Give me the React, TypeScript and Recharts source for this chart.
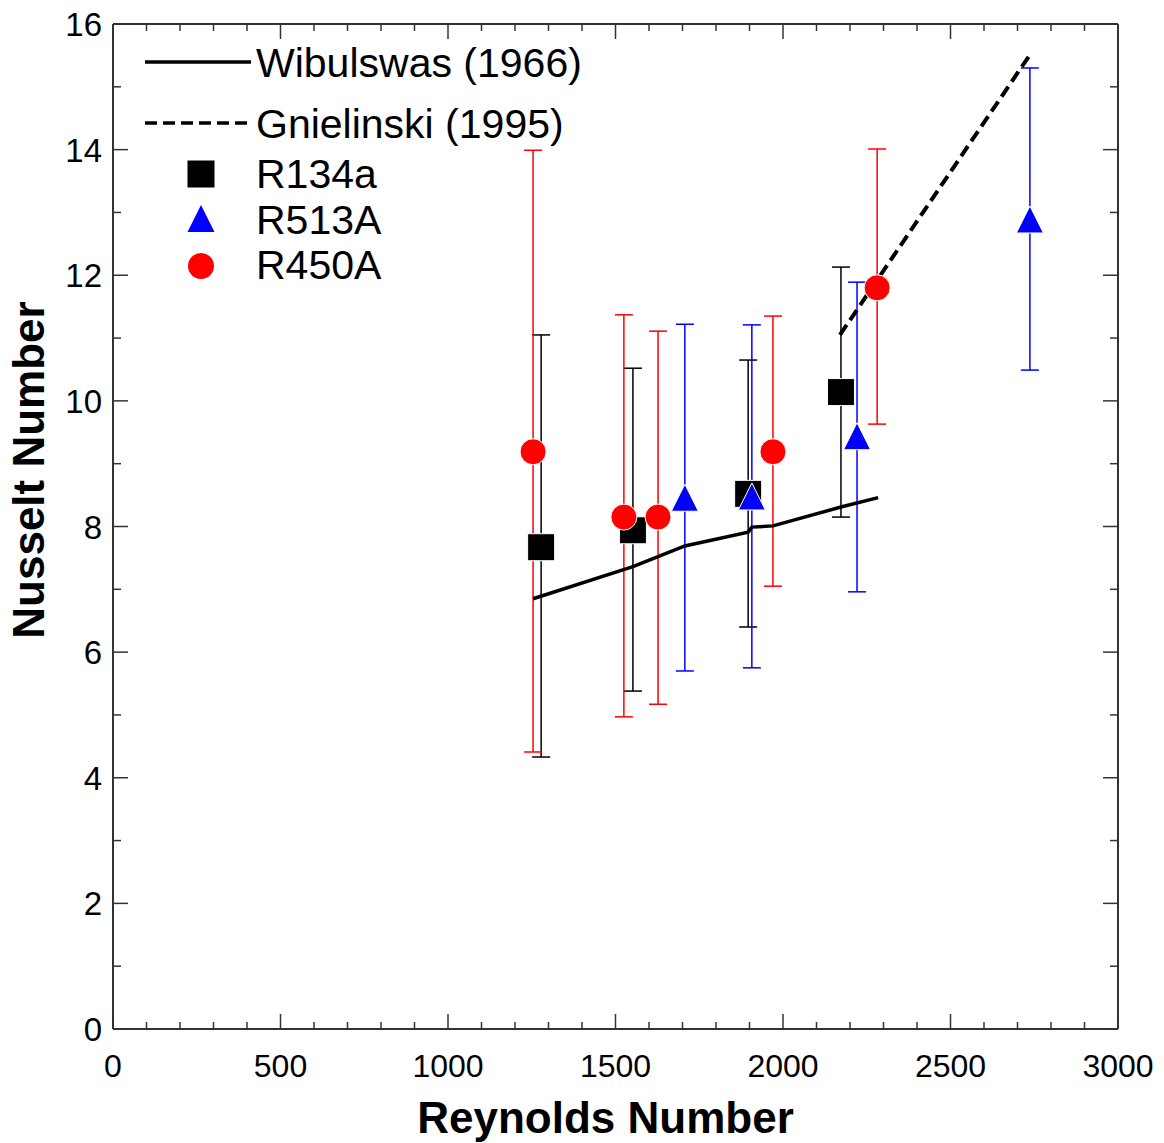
import React from 'react';
import { ComposedChart, Scatter, Line, XAxis, YAxis, ErrorBar, Label } from 'recharts';

// Reynolds number / Nusselt number, error bar bounds
const reR134a = [1278, 1552, 1896, 2173];
const nuR134a = [7.67, 7.94, 8.52, 10.14];
const hiR134a = [11.05, 10.52, 10.65, 12.13];
const loR134a = [4.33, 5.38, 6.4, 8.15];

const reR513A = [1707, 1907, 2221, 2737];
const nuR513A = [8.45, 8.47, 9.43, 12.88];
const hiR513A = [11.22, 11.21, 11.89, 15.3];
const loR513A = [5.7, 5.75, 6.96, 10.49];

const reR450A = [1254, 1525, 1627, 1970, 2281];
const nuR450A = [9.19, 8.15, 8.15, 9.19, 11.8];
const hiR450A = [13.99, 11.37, 11.11, 11.35, 14.01];
const loR450A = [4.41, 4.97, 5.17, 7.05, 9.63];

const reWib = [1254, 1552, 1627, 1707, 1896, 1907, 1970, 2173, 2284];
const nuWib = [6.85, 7.36, 7.52, 7.69, 7.91, 7.99, 8.01, 8.31, 8.46];

const reGni = [2170, 2737];
const nuGni = [11.05, 15.51];

const xTicks = [0, 100, 200, 300, 400, 500, 600, 700, 800, 900, 1000, 1100, 1200, 1300, 1400, 1500,
  1600, 1700, 1800, 1900, 2000, 2100, 2200, 2300, 2400, 2500, 2600, 2700, 2800, 2900, 3000];
const xLabels = [0, 500, 1000, 1500, 2000, 2500, 3000];
const yTicks = [0, 1, 2, 3, 4, 5, 6, 7, 8, 9, 10, 11, 12, 13, 14, 15, 16];
const yLabels = [0, 2, 4, 6, 8, 10, 12, 14, 16];

const FONT = 'Arial, "Liberation Sans", Helvetica, sans-serif';
const AXIS = '#333';

const withErr = (xs: number[], ys: number[], hi: number[], lo: number[]) =>
  xs.map((x, i) => ({ x, y: ys[i], err: [ys[i] - lo[i], hi[i] - ys[i]] }));
const pairs = (xs: number[], ys: number[]) => xs.map((x, i) => ({ x, y: ys[i] }));

const dataR134a = withErr(reR134a, nuR134a, hiR134a, loR134a);
const dataR513A = withErr(reR513A, nuR513A, hiR513A, loR513A);
const dataR450A = withErr(reR450A, nuR450A, hiR450A, loR450A);
const dataWib = pairs(reWib, nuWib);
const dataGni = pairs(reGni, nuGni);

const SquareDot = (p: any) => (
  <rect x={p.cx - 13.5} y={p.cy - 13.5} width={27} height={27} fill="#000" stroke="#fff" strokeWidth={1} />
);
const TriangleDot = (p: any) => (
  <polygon
    points={`${p.cx},${p.cy - 14} ${p.cx + 13.5},${p.cy + 13} ${p.cx - 13.5},${p.cy + 13}`}
    fill="#0000ff"
    stroke="#fff"
    strokeWidth={1}
  />
);
const CircleDot = (p: any) => <circle cx={p.cx} cy={p.cy} r={13} fill="#ff0000" stroke="#fff" strokeWidth={1} />;

const BottomTick = (p: any) => {
  const v = p.payload.value;
  const major = v % 500 === 0;
  return (
    <g>
      <line x1={p.x} y1={p.y} x2={p.x} y2={p.y - (major ? 15 : 7)} stroke={AXIS} strokeWidth={1.5} />
      {xLabels.includes(v) && (
        <text x={p.x} y={p.y + 48} textAnchor="middle" fontSize={32} fontFamily={FONT} fill="#000">
          {v}
        </text>
      )}
    </g>
  );
};
const TopTick = (p: any) => {
  const major = p.payload.value % 500 === 0;
  return <line x1={p.x} y1={p.y} x2={p.x} y2={p.y + (major ? 15 : 7)} stroke={AXIS} strokeWidth={1.5} />;
};
const LeftTick = (p: any) => {
  const v = p.payload.value;
  const major = v % 2 === 0;
  return (
    <g>
      <line x1={p.x} y1={p.y} x2={p.x + (major ? 15 : 8)} y2={p.y} stroke={AXIS} strokeWidth={1.5} />
      {yLabels.includes(v) && (
        <text x={p.x - 11} y={p.y + 12} textAnchor="end" fontSize={33} fontFamily={FONT} fill="#000">
          {v}
        </text>
      )}
    </g>
  );
};
const RightTick = (p: any) => {
  const major = p.payload.value % 2 === 0;
  return <line x1={p.x} y1={p.y} x2={p.x - (major ? 15 : 8)} y2={p.y} stroke={AXIS} strokeWidth={1.5} />;
};

const NuLabel = () => (
  <text
    transform="translate(44,470) rotate(-90)"
    textAnchor="middle"
    fontSize={44}
    fontWeight={700}
    fontFamily={FONT}
    fill="#000"
  >
    Nusselt Number
  </text>
);

function ChartLegend() {
  const t = { fontSize: 41, fontFamily: FONT, fill: '#000' };
  return (
    <g>
      <line x1={145} y1={62} x2={251} y2={62} stroke="#000" strokeWidth={3.5} />
      <text x={256} y={77} {...t}>Wibulswas (1966)</text>
      <line x1={145} y1={123} x2={251} y2={123} stroke="#000" strokeWidth={3.5} strokeDasharray="12 6" />
      <text x={256} y={138} {...t}>Gnielinski (1995)</text>
      <rect x={187.5} y={160.5} width={27} height={27} fill="#000" />
      <text x={256} y={188} {...t}>R134a</text>
      <polygon points="201,205 214.5,232 187.5,232" fill="#0000ff" />
      <text x={256} y={234} {...t}>R513A</text>
      <circle cx={201} cy={266} r={13} fill="#ff0000" />
      <text x={256} y={279} {...t}>R450A</text>
    </g>
  );
}

export default function App() {
  return (
    <div style={{ position: 'absolute', left: 0, top: 0, width: 1164, height: 1143, background: '#fff' }}>
      <ComposedChart width={1164} height={1143} margin={{ top: 23, right: 45, left: 0, bottom: 0 }}>
        <XAxis
          dataKey="x"
          type="number"
          domain={[0, 3000]}
          ticks={xTicks}
          interval={0}
          height={114}
          tickSize={0}
          tickMargin={0}
          tickLine={false}
          axisLine={{ stroke: AXIS, strokeWidth: 2 }}
          tick={BottomTick}
          allowDataOverflow
        >
          <Label
            value="Reynolds Number"
            position="insideBottom"
            offset={10}
            dx={-10}
            style={{ fontSize: 44, fontWeight: 700, fontFamily: FONT, fill: '#000' }}
          />
        </XAxis>
        <XAxis
          xAxisId="top"
          orientation="top"
          dataKey="x"
          type="number"
          domain={[0, 3000]}
          ticks={xTicks}
          interval={0}
          height={1}
          tickSize={0}
          tickMargin={0}
          tickLine={false}
          axisLine={{ stroke: AXIS, strokeWidth: 2 }}
          tick={TopTick}
          allowDataOverflow
        />
        <YAxis
          dataKey="y"
          type="number"
          domain={[0, 16]}
          ticks={yTicks}
          interval={0}
          width={113}
          tickSize={0}
          tickMargin={0}
          tickLine={false}
          axisLine={{ stroke: AXIS, strokeWidth: 2 }}
          tick={LeftTick}
          allowDataOverflow
        >
          <Label content={NuLabel} />
        </YAxis>
        <YAxis
          yAxisId="right"
          orientation="right"
          dataKey="y"
          type="number"
          domain={[0, 16]}
          ticks={yTicks}
          interval={0}
          width={1}
          tickSize={0}
          tickMargin={0}
          tickLine={false}
          axisLine={{ stroke: AXIS, strokeWidth: 2 }}
          tick={RightTick}
          allowDataOverflow
        />
        <Scatter data={dataR134a} shape={SquareDot} isAnimationActive={false}>
          <ErrorBar dataKey="err" direction="y" width={9} stroke="#000" strokeWidth={1.5} />
        </Scatter>
        <Scatter data={dataR513A} shape={TriangleDot} isAnimationActive={false}>
          <ErrorBar dataKey="err" direction="y" width={9} stroke="#0000ff" strokeWidth={1.5} />
        </Scatter>
        <Scatter data={dataR450A} shape={CircleDot} isAnimationActive={false}>
          <ErrorBar dataKey="err" direction="y" width={9} stroke="#ff0000" strokeWidth={1.5} />
        </Scatter>
        <Line data={dataWib} dataKey="y" stroke="#000" strokeWidth={3.5} dot={false} isAnimationActive={false} />
        <Line
          data={dataGni}
          dataKey="y"
          stroke="#000"
          strokeWidth={4}
          strokeDasharray="12 6"
          dot={false}
          isAnimationActive={false}
        />
        <ChartLegend />
      </ComposedChart>
    </div>
  );
}
